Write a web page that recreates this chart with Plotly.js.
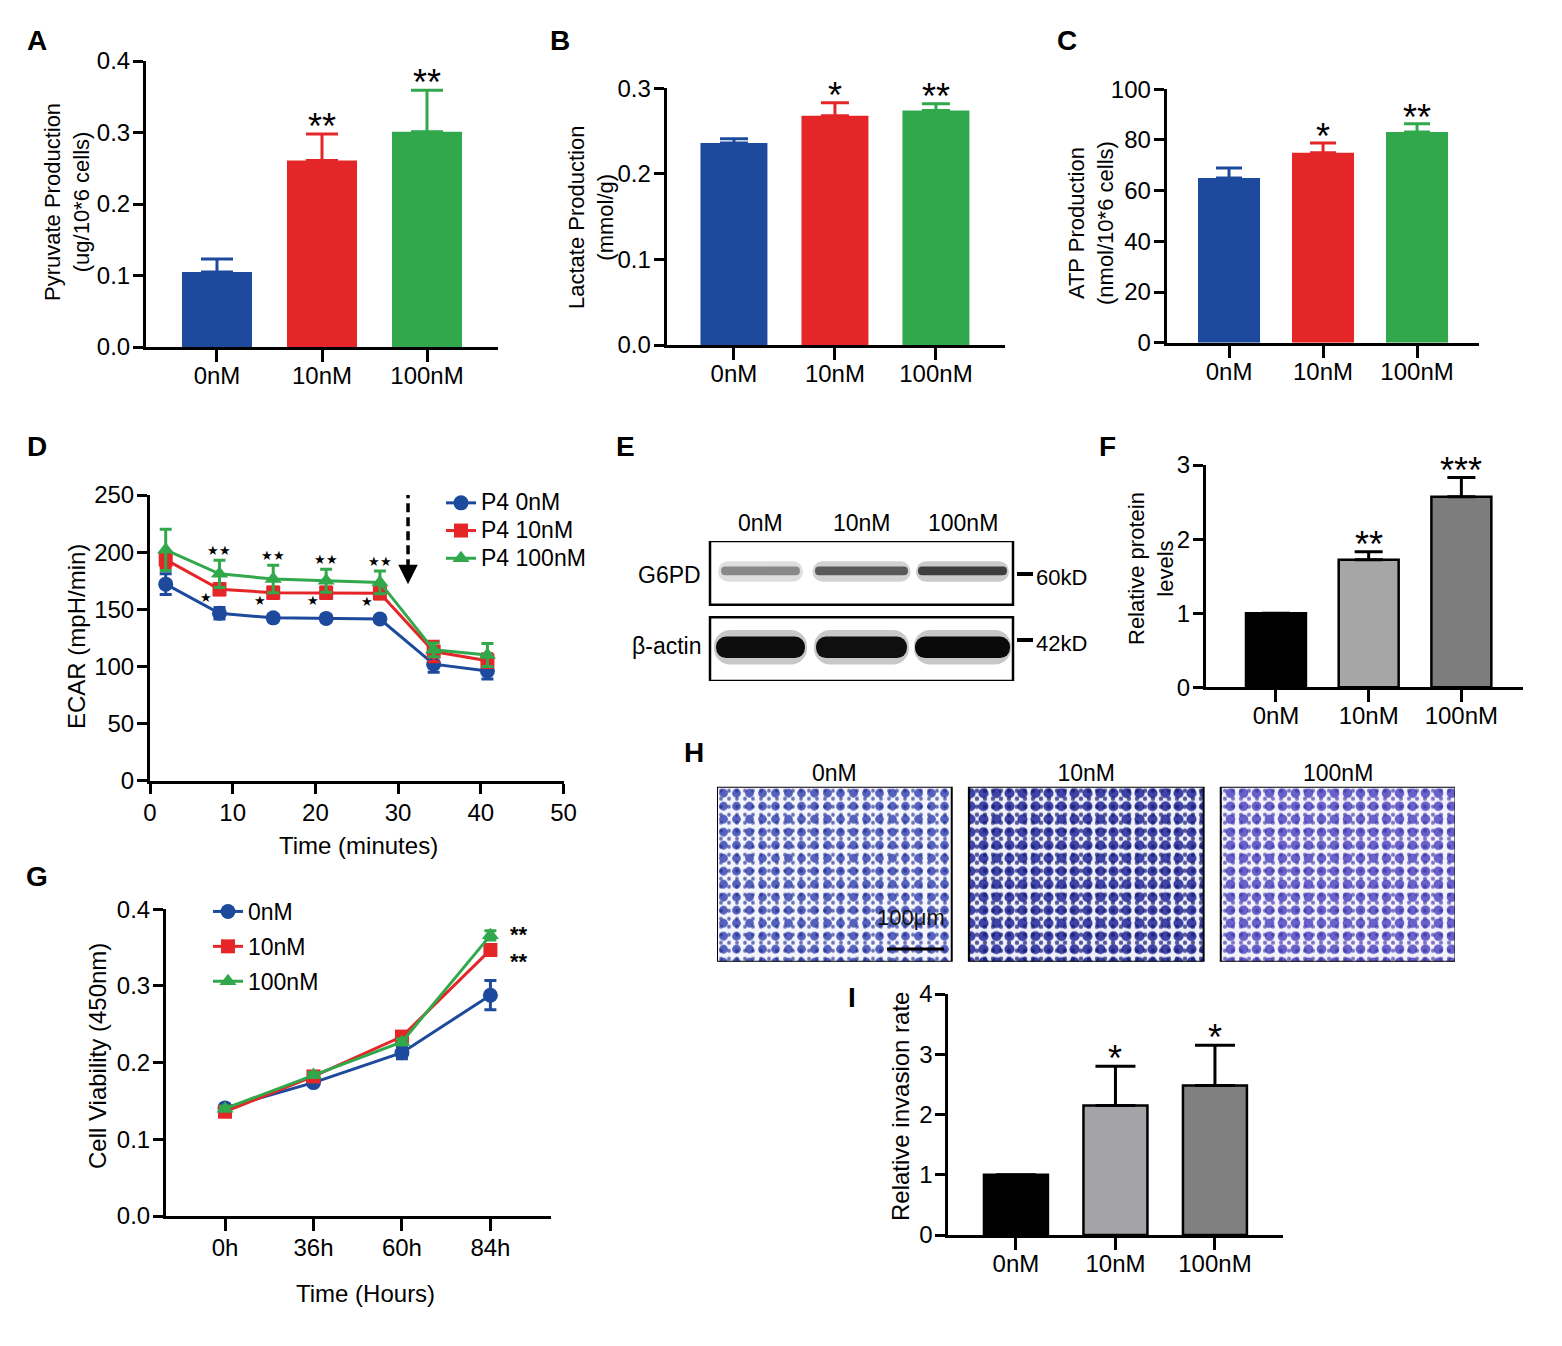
<!DOCTYPE html>
<html><head><meta charset="utf-8">
<script src="https://cdn.plot.ly/plotly-3.0.1.min.js"></script>
<style>html,body{margin:0;padding:0;background:#fff}#chart{width:1562px;height:1346px}</style>
</head><body><div id="chart"></div>
<script>
// ---------------- DATA ----------------
const doseCats = ['0nM', '10nM', '100nM'];
// A
const pyruvate = [0.105, 0.261, 0.301];
const pyruvateErr = [0.018, 0.037, 0.058];
const pyruvateSig = ['', '**', '**'];
// B
const lactate = [0.236, 0.268, 0.274];
const lactateErr = [0.005, 0.015, 0.008];
const lactateSig = ['', '*', '**'];
// C
const atp = [65.0, 75.0, 83.1];
const atpErr = [3.9, 3.8, 3.3];
const atpSig = ['', '*', '**'];
// D
const ecarTime = [1.9, 8.4, 14.9, 21.3, 27.8, 34.3, 40.8];
const ecar0 = [172, 146.5, 142.5, 142, 141.5, 102, 96];
const ecar0Err = [9, 5, 3, 3, 3, 7, 7];
const ecar10 = [193.5, 167.5, 164.5, 164.5, 164, 113, 105];
const ecar10Err = [7, 5, 5, 5, 5, 9, 6];
const ecar100 = [202, 181, 176.5, 175, 173.5, 114.5, 110];
const ecar100Err = [18, 12, 12, 10, 10, 6, 10];
const ecarSigHigh = ['', '★★', '★★', '★★', '★★', '', ''];
const ecarSigLow = ['', '★', '★', '★', '★', '', ''];
// E (band darkness 0..1)
const blotLanes = ['0nM', '10nM', '100nM'];
const g6pdBand = [0.50, 0.70, 0.82];
const actinBand = [0.95, 0.94, 0.96];
// F
const protein = [1.0, 1.72, 2.57];
const proteinErr = [0, 0.11, 0.26];
const proteinSig = ['', '**', '***'];
// G
const hours = ['0h', '36h', '60h', '84h'];
const via0 = [0.141, 0.174, 0.213, 0.288];
const via0Err = [0.004, 0.004, 0.008, 0.019];
const via10 = [0.136, 0.182, 0.234, 0.347];
const via10Err = [0.003, 0.003, 0.004, 0.006];
const via100 = [0.140, 0.184, 0.227, 0.366];
const via100Err = [0.003, 0.003, 0.004, 0.006];
const viaSig = ['**', '**'];   // 100nM, 10nM at 84h
// H (stain coverage of field)
const fields = ['0nM', '10nM', '100nM'];
const stainCoverage = [0.36, 0.48, 0.43];
// I
const invasion = [1.0, 2.15, 2.48];
const invasionErr = [0, 0.65, 0.67];
const invasionSig = ['', '*', '*'];

// ---------------- STYLE ----------------
const W = 1562, H = 1346;
const fx = p => p / W, fy = p => 1 - p / H;
const FONT = 'Arial, "Liberation Sans", Helvetica, sans-serif';
const BLUE = '#1d4a9c', RED = '#e42629', GREEN = '#31a84b';
const doseColors = [BLUE, RED, GREEN];

const axBase = {showline: true, linecolor: '#000', linewidth: 3, ticks: 'outside', ticklen: 10, tickwidth: 3,
  tickcolor: '#000', showgrid: false, zeroline: false, fixedrange: true,
  tickfont: {size: 24, color: '#000', family: FONT}};
function xAx(dom, range, anchor, extra) {
  return Object.assign({}, axBase, {domain: [fx(dom[0]), fx(dom[1])], range: range, anchor: anchor, ticklen: 12,
    ticklabelstandoff: -7}, extra || {});
}
function yAx(dom, range, anchor, dtick, fmt, extra) {
  return Object.assign({}, axBase, {domain: [fy(dom[1]), fy(dom[0])], range: range, anchor: anchor, dtick: dtick, tick0: 0,
    tickformat: fmt, ticklabelstandoff: -2}, extra || {});
}

const traces = [];
const annotations = [];
const shapes = [];

function colorBars(xa, ya, vals, errs, width, cap) {
  doseCats.forEach((c, i) => {
    traces.push({type: 'bar', x: [c], y: [vals[i]], xaxis: xa, yaxis: ya, width: width,
      marker: {color: doseColors[i], line: {width: 0}},
      error_y: {type: 'data', symmetric: false, array: [errs[i]], arrayminus: [0], color: doseColors[i], thickness: 3, width: cap},
      showlegend: false, hoverinfo: 'skip'});
  });
}
function stars(xa, ya, cats, vals, errs, labels, size, yshift) {
  cats.forEach((c, i) => {
    if (!labels[i]) return;
    annotations.push({xref: xa, yref: ya, x: c, y: vals[i] + errs[i], text: labels[i], showarrow: false,
      yanchor: 'bottom', yshift: yshift, font: {size: size, color: '#000'}});
  });
}
function grayBars(xa, ya, vals, errs, width, cap, colors) {
  traces.push({type: 'bar', x: doseCats, y: vals, xaxis: xa, yaxis: ya, width: width,
    marker: {color: colors, line: {color: '#000', width: 2.5}},
    error_y: {type: 'data', symmetric: false, array: errs, arrayminus: errs.map(() => 0), color: '#000', thickness: 3, width: cap},
    showlegend: false, hoverinfo: 'skip'});
}

// A, B, C
colorBars('x', 'y', pyruvate, pyruvateErr, 0.667, 16);
stars('x', 'y', doseCats, pyruvate, pyruvateErr, pyruvateSig, 36, -15);
colorBars('x2', 'y2', lactate, lactateErr, 0.663, 14);
stars('x2', 'y2', doseCats, lactate, lactateErr, lactateSig, 36, -15);
colorBars('x3', 'y3', atp, atpErr, 0.66, 13);
stars('x3', 'y3', doseCats, atp, atpErr, atpSig, 36, -16);

// D
[[ecar0, ecar0Err, BLUE, 'circle', 'P4 0nM', 15], [ecar10, ecar10Err, RED, 'square', 'P4 10nM', 14],
 [ecar100, ecar100Err, GREEN, 'triangle-up', 'P4 100nM', 15]].forEach(s => {
  traces.push({type: 'scatter', mode: 'lines+markers', x: ecarTime, y: s[0], xaxis: 'x4', yaxis: 'y4',
    name: '<span style="font-size:23px">' + s[4] + '</span>',
    line: {color: s[2], width: 3}, marker: {symbol: s[3], size: s[5], color: s[2]},
    error_y: {type: 'data', array: s[1], color: s[2], thickness: 3, width: 6},
    legend: 'legend', hoverinfo: 'skip'});
});
ecarTime.forEach((t, i) => {
  if (ecarSigHigh[i]) annotations.push({xref: 'x4', yref: 'y4', x: t, y: ecar100[i] + ecar100Err[i], text: ecarSigHigh[i],
    showarrow: false, yanchor: 'bottom', yshift: 0, font: {size: 13, color: '#000'}});
  if (ecarSigLow[i]) annotations.push({xref: 'x4', yref: 'y4', x: t, y: ecar10[i], text: ecarSigLow[i],
    showarrow: false, yanchor: 'middle', xshift: -13, yshift: -8, font: {size: 13, color: '#000'}});
});
annotations.push({xref: 'x4', yref: 'y4', x: 30.5, y: 271, text: '2-DG', showarrow: false, font: {size: 23}});
shapes.push({type: 'line', xref: 'x4', yref: 'y4', x0: 31.2, x1: 31.2, y0: 255, y1: 183, line: {color: '#000', width: 3.5, dash: '9px,5px'}});
annotations.push({xref: 'x4', yref: 'y4', x: 31.2, y: 172, ax: 0, ay: -14, text: '', showarrow: true,
  arrowhead: 2, arrowsize: 1.3, arrowwidth: 3, arrowcolor: '#000'});

// E (western blot)
function gray(d) { const v = Math.round(255 * (1 - d)); return 'rgb(' + v + ',' + v + ',' + v + ')'; }
function band(dark, yc, h, widths, opacity, radius) {
  traces.push({type: 'bar', x: blotLanes, y: blotLanes.map(() => h), base: blotLanes.map(() => yc - h / 2),
    xaxis: 'x5', yaxis: 'y5', width: widths, opacity: opacity,
    marker: {color: dark.map(gray), line: {width: 0}, cornerradius: radius}, showlegend: false, hoverinfo: 'skip'});
}
band(g6pdBand.map(d => d * 0.5), 1.72, 0.32, [0.84, 0.97, 0.92], 0.5, 10);
band(g6pdBand, 1.73, 0.14, [0.78, 0.92, 0.88], 0.9, 6);
band(actinBand.map(d => d * 0.5), 0.53, 0.54, [0.92, 0.94, 0.96], 0.45, 16);
band(actinBand, 0.53, 0.34, [0.88, 0.9, 0.94], 1, 14);
shapes.push({type: 'rect', xref: 'x5 domain', yref: 'y5', x0: 0, x1: 1, y0: 1.2, y1: 2.2, line: {color: '#000', width: 2.5}});
shapes.push({type: 'rect', xref: 'x5 domain', yref: 'y5', x0: 0, x1: 1, y0: 0, y1: 1.0, line: {color: '#000', width: 2.5}});
blotLanes.forEach(l => annotations.push({xref: 'x5', yref: 'paper', x: l, y: fy(523), text: l, showarrow: false, font: {size: 23}}));
annotations.push({xref: 'paper', yref: 'paper', x: fx(703), y: fy(575), xanchor: 'right', text: 'G6PD', showarrow: false, font: {size: 23}});
annotations.push({xref: 'paper', yref: 'paper', x: fx(703), y: fy(646), xanchor: 'right', text: 'β-actin', showarrow: false, font: {size: 23}});
shapes.push({type: 'line', xref: 'paper', yref: 'paper', x0: fx(1017), x1: fx(1033), y0: fy(574), y1: fy(574), line: {color: '#000', width: 4}});
shapes.push({type: 'line', xref: 'paper', yref: 'paper', x0: fx(1017), x1: fx(1033), y0: fy(640), y1: fy(640), line: {color: '#000', width: 4}});
annotations.push({xref: 'paper', yref: 'paper', x: fx(1034), y: fy(577), xanchor: 'left', text: '60kD', showarrow: false, font: {size: 22}});
annotations.push({xref: 'paper', yref: 'paper', x: fx(1034), y: fy(643), xanchor: 'left', text: '42kD', showarrow: false, font: {size: 22}});

// F
grayBars('x6', 'y6', protein, proteinErr, 0.647, 14, ['#000000', '#a6a6a6', '#7d7d7d']);
stars('x6', 'y6', doseCats, protein, proteinErr, proteinSig, 36, -15);

// G
[[via0, via0Err, BLUE, 'circle', '0nM', 15], [via10, via10Err, RED, 'square', '10nM', 14],
 [via100, via100Err, GREEN, 'triangle-up', '100nM', 15]].forEach((s, k) => {
  traces.push({type: 'scatter', mode: 'lines+markers', x: hours, y: s[0], xaxis: 'x7', yaxis: 'y7', name: s[4],
    line: {color: s[2], width: 3}, marker: {symbol: s[3], size: s[5], color: s[2]},
    error_y: {type: 'data', array: s[1], color: s[2], thickness: 3, width: 6},
    legend: 'legend2', legendgroup: 'g' + k, hoverinfo: 'skip'});
});
[[via100, viaSig[0], 1], [via10, viaSig[1], -12]].forEach(s => {
  annotations.push({xref: 'x7', yref: 'y7', x: '84h', y: s[0][3], text: '<b>' + s[1] + '</b>', showarrow: false,
    xshift: 29, yshift: s[2], yanchor: 'middle', font: {size: 22}});
});

// H (invasion fields)
traces.push({type: 'bar', x: fields, y: fields.map(() => 1), xaxis: 'x8', yaxis: 'y8', width: 0.932,
  marker: {color: ['#f4f5fc', '#eff0fa', '#f4f1fa'], line: {width: 0}}, showlegend: false, hoverinfo: 'skip'});
traces.push({type: 'bar', x: fields, y: fields.map(() => 1), xaxis: 'x8', yaxis: 'y8', width: 0.932,
  marker: {color: 'rgba(0,0,0,0)', line: {width: 0},
    pattern: {shape: '.', size: 13, solidity: stainCoverage, fgcolor: ['rgba(58,72,178,0.85)', 'rgba(42,48,158,0.9)', 'rgba(80,72,194,0.85)'],
      bgcolor: 'rgba(0,0,0,0)', fillmode: 'replace'}},
  showlegend: false, hoverinfo: 'skip'});
traces.push({type: 'bar', x: fields, y: fields.map(() => 1), xaxis: 'x8', yaxis: 'y8', width: 0.932,
  marker: {color: 'rgba(0,0,0,0)', line: {color: '#000', width: 2},
    pattern: {shape: '.', size: 8, solidity: stainCoverage.map(s => s * 0.5), fgcolor: ['rgba(30,40,140,0.65)', 'rgba(20,24,110,0.7)', 'rgba(55,50,165,0.65)'],
      bgcolor: 'rgba(0,0,0,0)', fillmode: 'replace'}},
  showlegend: false, hoverinfo: 'skip'});
shapes.push({type: 'line', xref: 'paper', yref: 'paper', x0: fx(887), x1: fx(944), y0: fy(949), y1: fy(949), line: {color: '#000', width: 3}});
annotations.push({xref: 'paper', yref: 'paper', x: fx(911), y: fy(932), text: '100μm', showarrow: false, font: {size: 22, color: '#111'}});

// I
grayBars('x9', 'y9', invasion, invasionErr, 0.643, 20, ['#000000', '#a4a4a8', '#808080']);
stars('x9', 'y9', doseCats, invasion, invasionErr, invasionSig, 36, -15);

// ---------------- TEXT ----------------
function ytitle(x, y, text, size) {
  annotations.push({xref: 'paper', yref: 'paper', x: fx(x), y: fy(y), text: text, textangle: -90, showarrow: false,
    xanchor: 'center', yanchor: 'middle', font: {size: size || 22}});
}
function plain(x, y, text, size, bold) {
  annotations.push({xref: 'paper', yref: 'paper', x: fx(x), y: fy(y), text: bold ? '<b>' + text + '</b>' : text,
    showarrow: false, xanchor: 'center', yanchor: 'middle', font: {size: size}});
}
ytitle(67, 202, 'Pyruvate Production<br>(ug/10*6 cells)');
ytitle(591, 218, 'Lactate Production<br>(mmol/g)');
ytitle(1091, 223, 'ATP Production<br>(nmol/10*6 cells)');
ytitle(76, 637, 'ECAR (mpH/min)', 24);
plain(358, 845, 'Time (minutes)', 24);
ytitle(1151, 569, 'Relative protein<br>levels', 22);
ytitle(97, 1056, 'Cell Viability (450nm)', 24);
plain(365, 1293, 'Time (Hours)', 24);
ytitle(900, 1107, 'Relative invasion rate', 24);
[['A', 37, 40], ['B', 560, 40], ['C', 1067, 40], ['D', 37, 447], ['E', 625, 447], ['F', 1107, 447],
 ['G', 37, 876], ['H', 694, 752], ['I', 852, 997]].forEach(p => plain(p[1], p[2], p[0], 28, true));

// ---------------- LAYOUT ----------------
const layout = {
  width: W, height: H, margin: {l: 0, r: 0, t: 0, b: 0}, paper_bgcolor: '#fff', plot_bgcolor: 'rgba(0,0,0,0)',
  barmode: 'overlay', font: {family: FONT, color: '#000'},
  xaxis: xAx([146, 498], [-0.676, 2.676], 'y'),
  yaxis: yAx([61, 347], [0, 0.4], 'x', 0.1, '.1f'),
  xaxis2: xAx([666.7, 1004.7], [-0.666, 2.681], 'y2'),
  yaxis2: yAx([88.3, 345], [0, 0.3], 'x2', 0.1, '.1f'),
  xaxis3: xAx([1166.7, 1479], [-0.663, 2.659], 'y3'),
  yaxis3: yAx([89.3, 342.7], [0, 100], 'x3', 20, 'd'),
  xaxis4: xAx([150, 563.5], [0, 50], 'y4', {dtick: 10, tick0: 0, ticklen: 10, ticklabelstandoff: -2}),
  yaxis4: yAx([495, 780.7], [0, 250], 'x4', 50, 'd'),
  xaxis5: {domain: [fx(710), fx(1013)], range: [-0.5, 2.5], anchor: 'y5', visible: false, fixedrange: true},
  yaxis5: {domain: [fy(681), fy(541)], range: [0, 2.2], anchor: 'x5', visible: false, fixedrange: true},
  xaxis6: xAx([1206, 1523], [-0.755, 2.665], 'y6'),
  yaxis6: yAx([465, 687.3], [0, 3], 'x6', 1, 'd'),
  xaxis7: xAx([166, 551], [-0.667, 3.685], 'y7', {ticklabelstandoff: -4}),
  yaxis7: yAx([909.3, 1216], [0, 0.4], 'x7', 0.1, '.1f'),
  xaxis8: {domain: [fx(717), fx(1455)], range: [-0.466, 2.464], anchor: 'y8', side: 'top', showline: false, ticks: '',
    showgrid: false, zeroline: false, fixedrange: true, tickfont: {size: 23, color: '#000'}},
  yaxis8: {domain: [fy(961.7), fy(786.7)], range: [0, 1], anchor: 'x8', visible: false, fixedrange: true},
  xaxis9: xAx([948.3, 1283], [-0.68, 2.684], 'y9'),
  yaxis9: yAx([994, 1235], [0, 4], 'x9', 1, 'd'),
  legend: {x: fx(441), y: fy(484), xanchor: 'left', yanchor: 'top', font: {size: 19}, bgcolor: 'rgba(0,0,0,0)', tracegroupgap: 0},
  legend2: {x: fx(208), y: fy(890), xanchor: 'left', yanchor: 'top', font: {size: 23}, bgcolor: 'rgba(0,0,0,0)', tracegroupgap: 2},
  annotations: annotations, shapes: shapes
};
Plotly.newPlot('chart', traces, layout, {staticPlot: true, displayModeBar: false});
</script></body></html>
